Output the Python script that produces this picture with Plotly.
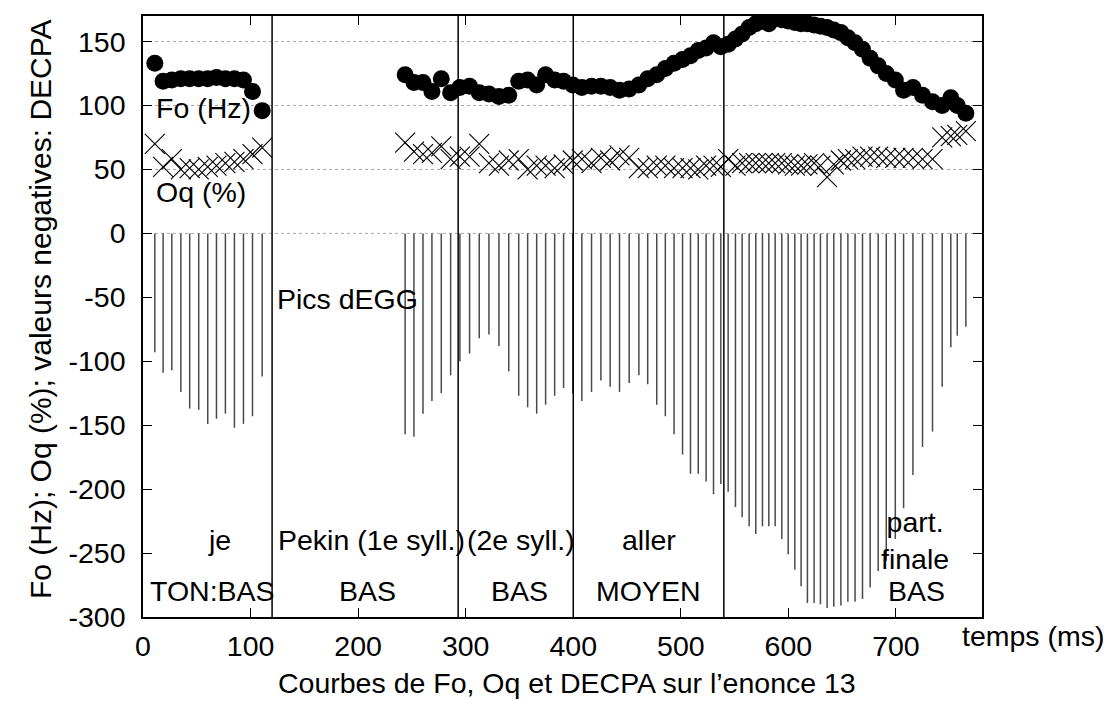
import plotly.graph_objects as go

# ---------------- data ----------------
# segment 1 : "je"
t1 = [11, 18.7, 26.8, 35.2, 43.4, 51.8, 60.2, 68.3, 76.6, 85, 93.4, 101.8, 110.8]
fo1 = [133, 119, 120, 121, 121, 121, 121, 122, 121, 121, 120, 111, 96]
oq1 = [70, 52, 58, 50, 51, 50, 52, 53, 55, 56, 58, 62, 67]
decpa1 = [-93, -109, -107, -124, -137, -138, -149, -145, -141, -152, -149, -143, -112]

# segment 2 : "Pekin aller ..." (one value per glottal cycle)
t2 = [243.7, 251.9, 260.3, 268.6, 277.3, 286.0, 294.6, 303.6, 312.6, 321.6,
      330.9, 340.0, 349.3, 357.6, 366.0, 374.3, 382.7, 391.0, 399.5, 408.0,
      417.0, 425.7, 434.3, 443.0, 452.0, 461.0, 469.2, 477.6, 485.6, 493.7,
      501.6, 509.0, 516.2, 523.5, 530.4, 537.2, 544.0, 550.8, 557.0, 563.5,
      569.7, 575.9, 581.8, 587.7, 593.9, 599.8, 606.0, 611.8, 617.7, 623.9,
      629.8, 636.0, 642.2, 648.8, 655.3, 662.0, 668.9, 676.0, 683.5, 691.0,
      699.4, 707.1, 715.8, 724.7, 734.0, 743.0, 751.0, 757.0, 765.0]
fo2 = [124, 118, 118, 111, 121, 110, 114, 115, 110, 109,
       107, 108, 119, 120, 116, 124, 120, 119, 116, 114,
       115, 115, 114, 112, 113, 116, 121, 124, 129, 133,
       136, 139, 143, 145, 149, 146, 148, 152, 156, 161,
       164, 166, 164, 168, 167, 166, 165, 164, 164, 163,
       162, 161, 159, 157, 153, 149, 144, 137, 131, 125,
       120, 112, 114, 108, 103, 100, 106, 100, 94]
oq2 = [71, 64, 62, 63, 68, 58, 60, 60, 70, 55,
       53, 57, 58, 50, 53, 53, 51, 54, 57, 58,
       55, 59, 57, 61, 59, 51, 51, 53, 53, 51,
       51, 51, 50, 53, 53, 52, 58, 53, 55, 55,
       55, 55, 55, 55, 55, 54, 53, 53, 54, 55,
       53, 44, 54, 57, 58, 58, 60, 60, 60, 59,
       59, 59, 59, 58, 58, 75, 76, 77, 80]
decpa2 = [-157, -159, -141, -131, -125, -111, -100, -94, -82, -79,
          -88, -108, -127, -136, -141, -134, -127, -121, -125, -131,
          -124, -115, -120, -124, -117, -111, -118, -134, -143, -157,
          -173, -188, -188, -194, -204, -196, -202, -214, -222, -229,
          -235, -229, -229, -229, -239, -251, -263, -276, -289, -289,
          -290, -293, -292, -291, -288, -288, -286, -277, -264, -256,
          -239, -215, -189, -167, -155, -120, -89, -80, -73]

time = t1 + t2
fo = fo1 + fo2
oq = oq1 + oq2
decpa = decpa1 + decpa2

# segment boundaries (ms) and horizontal reference levels
boundaries = [120, 293, 400, 540]
grid_levels = [0, 50, 100, 150]
x_ticks = [0, 100, 200, 300, 400, 500, 600, 700]
y_ticks = [-300, -250, -200, -150, -100, -50, 0, 50, 100, 150]
y_ticktext = ["-300", "-250", "-200", "-150", "-100", "-50", "0", "50", "100", "150"]

# text labels: (text, x, y, anchor)
labels = [
    ("Fo (Hz)", 10, 98, "left"),
    ("Oq (%)", 10, 32, "left"),
    ("Pics dEGG", 123, -51, "left"),
    ("je", 71, -240, "center"),
    ("TON:BAS", 65, -280, "center"),
    ("Pekin (1e syll.)", 123.5, -240, "left"),
    ("BAS", 209, -280, "center"),
    ("(2e syll.)", 299, -240, "left"),
    ("BAS", 350, -280, "center"),
    ("aller", 470, -240, "center"),
    ("MOYEN", 470, -280, "center"),
    ("part.<br>finale", 718, -240.5, "center"),
    ("BAS", 719, -280, "center"),
]

FONT = "Liberation Sans, Arial, Helvetica, sans-serif"
FS = 28.5

# impulses built from the DECPA data
imp_x, imp_y = [], []
for t, v in zip(time, decpa):
    imp_x += [t, t, None]
    imp_y += [0, v, None]

fig = go.Figure()
fig.add_trace(go.Scatter(x=imp_x, y=imp_y, mode="lines",
                         line=dict(color="#4a4a4a", width=1.5),
                         hoverinfo="skip", showlegend=False))
fig.add_trace(go.Scatter(x=time, y=oq, mode="markers",
                         marker=dict(symbol="x-thin-open", size=20,
                                     line=dict(color="black", width=1.1),
                                     color="black"),
                         showlegend=False))
fig.add_trace(go.Scatter(x=time, y=fo, mode="markers",
                         marker=dict(symbol="circle", size=17, color="black",
                                     line=dict(width=0)),
                         showlegend=False))

shapes = []
for g in grid_levels:
    shapes.append(dict(type="line", xref="x", yref="y", x0=0, x1=780, y0=g, y1=g,
                       line=dict(color="#a8a8a8", width=1, dash="dot"),
                       layer="below"))
for b in boundaries:
    shapes.append(dict(type="line", xref="x", yref="paper", x0=b, x1=b, y0=0, y1=1,
                       line=dict(color="black", width=1.5), layer="above"))

annotations = []
for txt, x, y, anc in labels:
    annotations.append(dict(text=txt, x=x, y=y, xref="x", yref="y",
                            xanchor=anc, yanchor="middle", showarrow=False,
                            font=dict(family=FONT, size=FS, color="black"),
                            align="center"))
annotations += [
    dict(text="temps (ms)", x=0.974, y=-0.031, xref="paper", yref="paper",
         xanchor="left", yanchor="middle", showarrow=False,
         font=dict(family=FONT, size=FS, color="black")),
    dict(text="Courbes de Fo, Oq et DECPA sur l\u2019enonce 13", x=0.505, y=-0.110,
         xref="paper", yref="paper", xanchor="center", yanchor="middle",
         showarrow=False, font=dict(family=FONT, size=FS, color="black")),
    dict(text="Fo (Hz); Oq (%); valeurs negatives: DECPA", x=-0.123, y=0.512,
         xref="paper", yref="paper", xanchor="center", yanchor="middle",
         textangle=-90, showarrow=False,
         font=dict(family=FONT, size=30, color="black")),
]

# page body has an 8px margin: figure sized/placed so the plot frame lands
# where the reference frame is
fig.update_layout(
    width=1102, height=695,
    margin=dict(l=135, r=128, t=6, b=86),
    paper_bgcolor="white", plot_bgcolor="white",
    font=dict(family=FONT, size=FS, color="black"),
    shapes=shapes, annotations=annotations,
    showlegend=False,
)
fig.update_xaxes(range=[0, 780], tickvals=x_ticks, ticks="inside", ticklen=9,
                 tickwidth=1.2, tickcolor="black", showline=True, linecolor="black",
                 linewidth=1.5, mirror="ticks", showgrid=False, zeroline=False,
                 ticklabelstandoff=3,
                 tickfont=dict(family=FONT, size=FS, color="black"))
fig.update_yaxes(range=[-300, 170], tickvals=y_ticks, ticktext=y_ticktext,
                 ticks="inside", ticklen=9,
                 tickwidth=1.2, tickcolor="black", showline=True, linecolor="black",
                 linewidth=1.5, mirror="ticks", showgrid=False, zeroline=False,
                 ticklabelstandoff=10,
                 tickfont=dict(family=FONT, size=FS, color="black"))

fig.write_html("out.html")
